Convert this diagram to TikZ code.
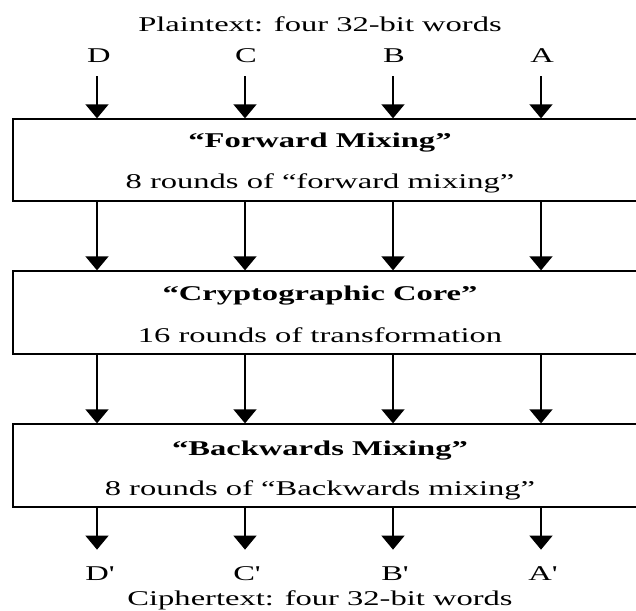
\documentclass[tikz,border=0pt]{standalone}
\usepackage{fontspec}
\setmainfont[FakeStretch=1.55]{Liberation Serif}
\usetikzlibrary{arrows.meta}
\begin{document}
\begin{tikzpicture}[x=1pt,y=-1pt,
  stage/.style={draw, line width=1.3pt, minimum width=632pt, inner sep=0pt},
  arr/.style={line width=1.3pt, -{Triangle[width=23pt,length=14pt]}},
  lbl/.style={anchor=base, inner sep=0pt, font=\fontsize{21}{25}\selectfont},
  ttl/.style={lbl, font=\fontsize{21}{25}\selectfont\bfseries}]
  \clip (0,0) rectangle (636,610);

  % word columns
  \coordinate (cD) at (97,0);
  \coordinate (cC) at (245,0);
  \coordinate (cB) at (393,0);
  \coordinate (cA) at (541,0);

  % the three stages (right side runs off the page)
  \node[stage, minimum height=82pt] (fwd)  at (329,160) {};
  \node[stage, minimum height=83pt] (core) at (329,312.5) {};
  \node[stage, minimum height=83pt] (back) at (329,465.5) {};

  % input words
  \node[lbl] (pt) at (320,31) {Plaintext: four 32-bit words};
  \node[lbl] (D) at (99,63) {D};
  \node[lbl] (C) at (246,63) {C};
  \node[lbl] (B) at (394,63) {B};
  \node[lbl] (A) at (542,63) {A};

  % stage texts
  \node[ttl] (fwdT) at (320,147) {“Forward Mixing”};
  \node[lbl] (fwdS) at (320,188) {8 rounds of “forward mixing”};
  \node[ttl] (coreT) at (320,300) {“Cryptographic Core”};
  \node[lbl] (coreS) at (320,342) {16 rounds of transformation};
  \node[ttl] (backT) at (320,455) {“Backwards Mixing”};
  \node[lbl] (backS) at (320,495) {8 rounds of “Backwards mixing”};

  % output words
  \node[lbl] (Dp) at (99,580) {D\textquotesingle};
  \node[lbl] (Cp) at (246,580) {C\textquotesingle};
  \node[lbl] (Bp) at (394,580) {B\textquotesingle};
  \node[lbl] (Ap) at (542,580) {A\textquotesingle};
  \node[lbl] (ct) at (320,605) {Ciphertext: four 32-bit words};

  % connectors
  \foreach \c/\w in {cD/D, cC/C, cB/B, cA/A} {
    \draw[arr] ([yshift=-13pt]\w.base -| \c) -- (fwd.north -| \c);
    \draw[arr] (fwd.south -| \c) -- (core.north -| \c);
    \draw[arr] (core.south -| \c) -- (back.north -| \c);
    \draw[arr] (back.south -| \c) -- ([yshift=-42pt]back.south -| \c);
  }
\end{tikzpicture}
\end{document}
